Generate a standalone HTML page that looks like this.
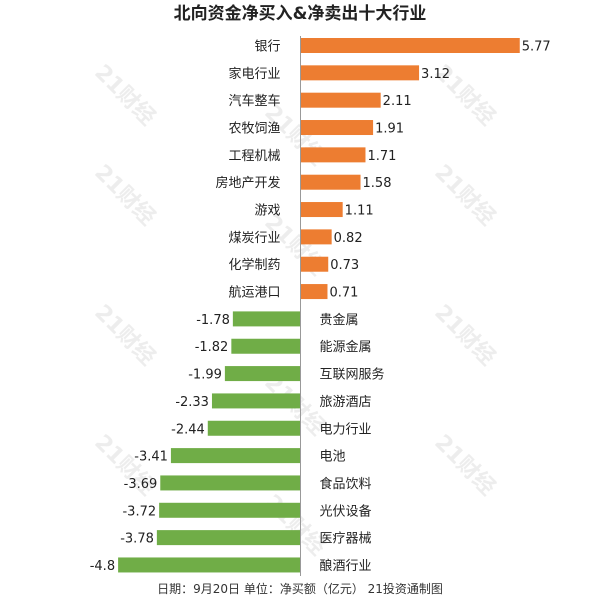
<!DOCTYPE html>
<html><head><meta charset="utf-8"><style>
body{margin:0;background:#fff;}
svg text{font-family:"DejaVu Sans","Noto Sans CJK SC",sans-serif;}
</style></head><body>
<svg id="c" width="600" height="600" xmlns="http://www.w3.org/2000/svg">
<rect width="600" height="600" fill="#fff"/>
<text x="300" y="19" text-anchor="middle" font-size="17" font-weight="bold" fill="#222">北向资金净买入&amp;净卖出十大行业</text>
<g id="wm" fill="#ddd" font-size="22" font-weight="bold" opacity="0.5"></g>
<g id="bars"></g>
<line x1="300.5" y1="36" x2="300.5" y2="576" stroke="#999" stroke-width="1"/>
<text x="300" y="593" text-anchor="middle" font-size="12" fill="#333">日期：9月20日 单位：净买额（亿元） 21投资通制图</text>
</svg>
<script>
const categories=["银行","家电行业","汽车整车","农牧饲渔","工程机械","房地产开发","游戏","煤炭行业","化学制药","航运港口","贵金属","能源金属","互联网服务","旅游酒店","电力行业","电池","食品饮料","光伏设备","医疗器械","酿酒行业"];
const values=[5.77,3.12,2.11,1.91,1.71,1.58,1.11,0.82,0.73,0.71,-1.78,-1.82,-1.99,-2.33,-2.44,-3.41,-3.69,-3.72,-3.78,-4.8];
const labels=["5.77","3.12","2.11","1.91","1.71","1.58","1.11","0.82","0.73","0.71","-1.78","-1.82","-1.99","-2.33","-2.44","-3.41","-3.69","-3.72","-3.78","-4.8"];
const NS="http://www.w3.org/2000/svg";
const x0=300.5,k=38,yTop=45.5,step=27.34,bh=15;
const xs=v=>x0+v*k;
const ys=i=>yTop+i*step;
const g=document.getElementById('bars');
function mk(t,a){const e=document.createElementNS(NS,t);for(const n in a)e.setAttribute(n,a[n]);return e;}
values.forEach((v,i)=>{
  const y=ys(i),pos=v>=0;
  const r=mk('rect',{x:Math.min(xs(v),x0),y:y-bh/2,width:Math.abs(xs(v)-x0),height:bh,fill:pos?'#ED7D31':'#70AD47'});
  
  
  g.appendChild(r);
  const vl=mk('text',{x:pos?xs(v)+2:xs(v)-3,y:y+5,'font-size':13,fill:'#222','text-anchor':pos?'start':'end'});
  vl.textContent=labels[i];
  
  
  g.appendChild(vl);
  const cl=mk('text',{x:pos?x0-20:x0+19,y:y+5,'font-size':13,fill:'#222','text-anchor':pos?'end':'start'});
  cl.textContent=categories[i];
  
  
  g.appendChild(cl);
});
const wm=document.getElementById('wm');
[[120,100],[290,140],[460,100],[120,200],[290,250],[460,200],[120,340],[290,410],[460,340],[120,470],[290,530],[460,470]].forEach(p=>{
  const t=mk('text',{x:p[0],y:p[1],transform:`rotate(45 ${p[0]} ${p[1]})`,'text-anchor':'middle'});
  t.textContent='21财经';
  
  
  wm.appendChild(t);
});
</script>
</body></html>
